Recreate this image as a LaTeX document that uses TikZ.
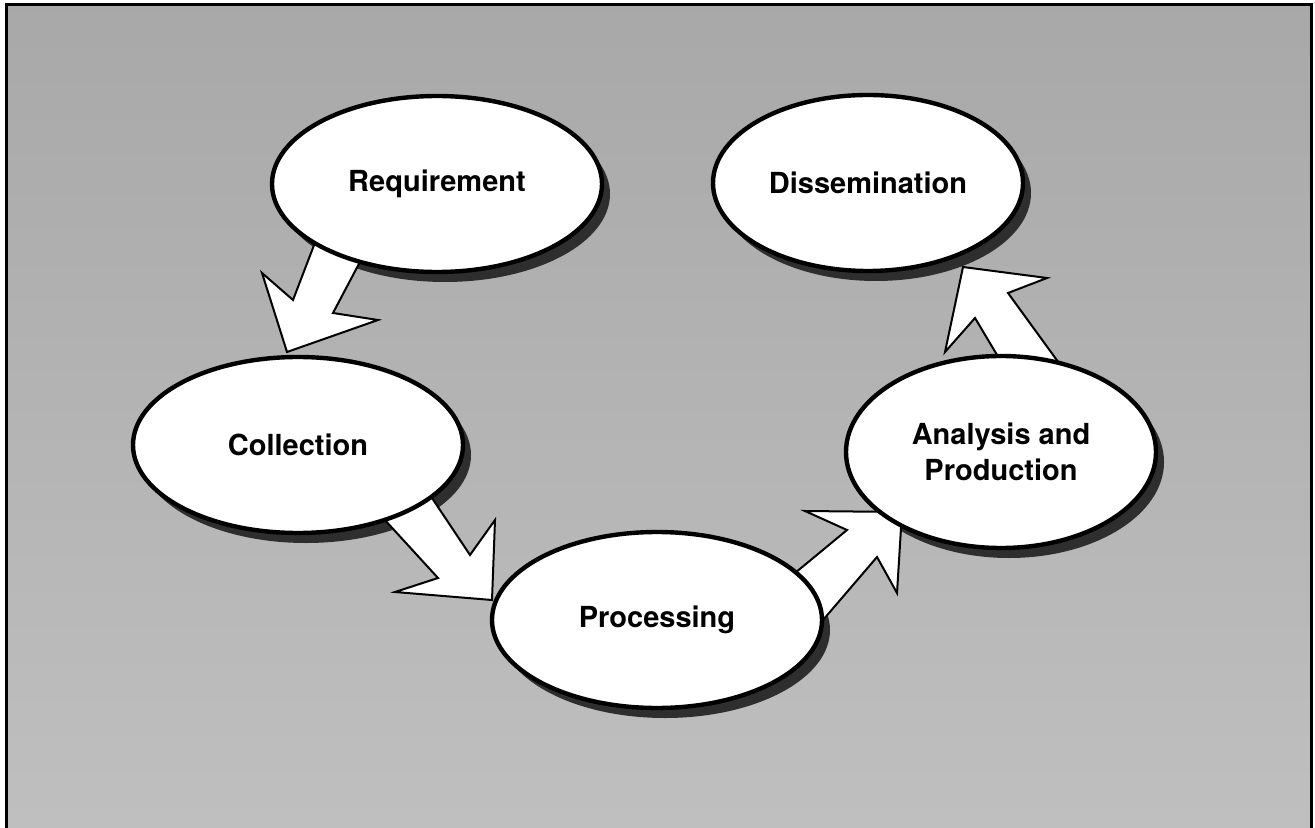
\documentclass[tikz,border=0pt]{standalone}
\usepackage{fontspec}
\setmainfont{TeX Gyre Heros}
\usetikzlibrary{shapes.geometric,calc}
\pgfdeclarelayer{bgl}
\pgfdeclarelayer{shadowl}
\pgfdeclarelayer{arrowl}
\pgfsetlayers{bgl,shadowl,arrowl,main}
\definecolor{bgtop}{gray}{0.66}
\definecolor{bgbot}{gray}{0.75}
\begin{document}
\begin{tikzpicture}[x=0.5pt,y=-0.5pt,
  stage/.style={ellipse, draw=black, line width=2.2pt, fill=white, inner sep=0pt, outer sep=0pt,
    font=\bfseries\fontsize{14.5}{18}\selectfont, align=center},
  blockarrow/.style={fill=white, draw=black, line width=1pt, line join=miter},
  shadowfill/.style={fill=black!82},
  frameline/.style={draw=black, line width=1.5pt}]
\useasboundingbox (0,0) rectangle (1315,828);
\begin{pgfonlayer}{bgl}
  \fill[white] (0,0) rectangle (1315,828);
  \shade[top color=bgtop, bottom color=bgbot] (6,5) rectangle (1311,835);
  \draw[frameline] (6,840) -- (6,5) -- (1311,5) -- (1311,840);
\end{pgfonlayer}

\node[stage, minimum width=165pt, minimum height=88pt] (req) at (437,184) {Requirement};
\node[stage, minimum width=155pt, minimum height=88pt] (dis) at (868,183) {Dissemination};
\node[stage, minimum width=165pt, minimum height=88pt] (col) at (298,445) {Collection};
\node[stage, minimum width=165pt, minimum height=88pt] (pro) at (657,620) {Processing};
\node[stage, minimum width=155pt, minimum height=96pt] (ana) at (1001,452) {Analysis and\\Production};

\begin{pgfonlayer}{shadowl}
  \fill[shadowfill] ($(req.center)+(8,10)$) ellipse [x radius=82.5pt, y radius=44pt];
  \fill[shadowfill] ($(dis.center)+(8,10)$) ellipse [x radius=77.5pt, y radius=44pt];
  \fill[shadowfill] ($(col.center)+(8,10)$) ellipse [x radius=82.5pt, y radius=44pt];
  \fill[shadowfill] ($(pro.center)+(8,10)$) ellipse [x radius=82.5pt, y radius=44pt];
  \fill[shadowfill] ($(ana.center)+(8,10)$) ellipse [x radius=77.5pt, y radius=48pt];
\end{pgfonlayer}

\begin{pgfonlayer}{arrowl}
  \filldraw[blockarrow] ([shift={(-121,56)}]req.center) -- ([shift={(-5,-145)}]col.center)
    -- ([shift={(-36,-172)}]col.center) -- ([shift={(-11,-93)}]col.center)
    -- ([shift={(80,-125)}]col.center) -- ([shift={(35,-132)}]col.center)
    -- ([shift={(-75,74)}]req.center) -- cycle;
  \filldraw[blockarrow] ([shift={(132,50)}]col.center) -- ([shift={(-187,-65)}]pro.center)
    -- ([shift={(-162,-100)}]pro.center) -- ([shift={(-165,-20)}]pro.center)
    -- ([shift={(-262,-28)}]pro.center) -- ([shift={(-219,-42)}]pro.center)
    -- ([shift={(86,74)}]col.center) -- cycle;
  \filldraw[blockarrow] ([shift={(132,-42)}]pro.center) -- ([shift={(-154,78)}]ana.center)
    -- ([shift={(-196,59)}]ana.center) -- ([shift={(-99,60)}]ana.center)
    -- ([shift={(-104,141)}]ana.center) -- ([shift={(-124,105)}]ana.center)
    -- ([shift={(160,7)}]pro.center) -- cycle;
  \filldraw[blockarrow] ([shift={(2,-87)}]ana.center) -- ([shift={(107,135)}]dis.center)
    -- ([shift={(77,169)}]dis.center) -- ([shift={(95,84)}]dis.center)
    -- ([shift={(179,95)}]dis.center) -- ([shift={(140,110)}]dis.center)
    -- ([shift={(63,-82)}]ana.center) -- cycle;
\end{pgfonlayer}
\end{tikzpicture}
\end{document}
